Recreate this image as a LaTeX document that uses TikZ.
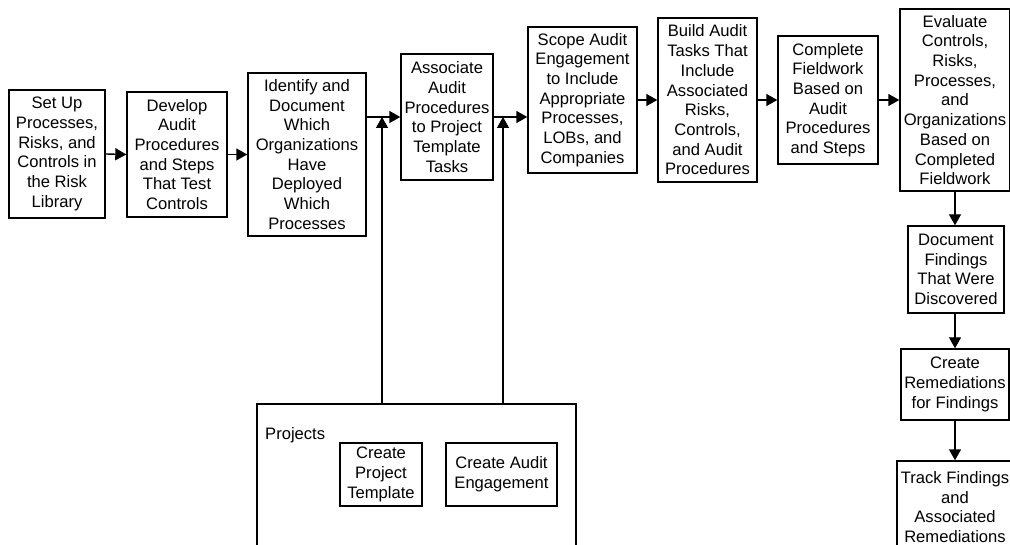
\documentclass[tikz,border=0pt]{standalone}
\usepackage{fontspec}
\setmainfont{Liberation Sans}
\usetikzlibrary{arrows.meta}
\begin{document}
\begin{tikzpicture}[x=1pt,y=-1pt,
  box/.style={draw,line width=1.4pt,inner sep=0pt,align=center,font=\fontsize{16.6}{19.7}\selectfont},
  lbl/.style={inner sep=0pt,font=\fontsize{16.6}{19.7}\selectfont},
  arr/.style={line width=1.4pt,-{Triangle[length=11pt,width=12pt]}},
  ln/.style={line width=1.4pt}]
\useasboundingbox (0,0) rectangle (1010,545);
\clip (0,0) rectangle (1010,545);
% main flow
\node[box,minimum width=96pt,minimum height=128pt] (b1) at (57,154) {Set Up\\Processes,\\Risks, and\\Controls in\\the Risk\\Library};
\node[box,minimum width=100pt,minimum height=125pt] (b2) at (177,154.5) {Develop\\Audit\\Procedures\\and Steps\\That Test\\Controls};
\node[box,minimum width=118pt,minimum height=163pt] (b3) at (307,154.5) {Identify and\\Document\\Which\\Organizations\\Have\\Deployed\\Which\\Processes};
\node[box,minimum width=92pt,minimum height=126pt] (b4) at (447,117) {Associate\\Audit\\Procedures\\to Project\\Template\\Tasks};
\node[box,minimum width=109pt,minimum height=146pt] (b5) at (582.5,100) {Scope Audit\\Engagement\\to Include\\Appropriate\\Processes,\\LOBs, and\\Companies};
\node[box,minimum width=99pt,minimum height=164pt] (b6) at (707.5,100) {Build Audit\\Tasks That\\Include\\Associated\\Risks,\\Controls,\\and Audit\\Procedures};
\node[box,minimum width=100pt,minimum height=128pt] (b7) at (828,100) {Complete\\Fieldwork\\Based on\\Audit\\Procedures\\and Steps};
\node[box,minimum width=110pt,minimum height=182pt] (b8) at (955,100) {Evaluate\\Controls,\\Risks,\\Processes,\\and\\Organizations\\Based on\\Completed\\Fieldwork};
\node[box,minimum width=96pt,minimum height=87pt] (b9) at (956,269.5) {Document\\Findings\\That Were\\Discovered};
\node[box,minimum width=108pt,minimum height=71pt] (b10) at (955,384.5) {Create\\Remediations\\for Findings};
\node[box,minimum width=116pt,minimum height=92pt] (b11) at (955,507) {Track Findings\\and\\Associated\\Remediations};
% projects
\node[draw,ln,inner sep=0pt,minimum width=319pt,minimum height=160pt] (proj) at (416.5,484) {};
\node[lbl,anchor=west] (plabel) at (265,435) {Projects};
\node[box,minimum width=82pt,minimum height=63pt] (p1) at (381,474.5) {Create\\Project\\Template};
\node[box,minimum width=111pt,minimum height=63pt] (p2) at (501.5,474.5) {Create Audit\\Engagement};
% connectors
\draw[arr] (b1.east) -- (b2.west);
\draw[arr] (b2.east) -- (b3.west);
\draw[arr] (b3.east |- b4.west) -- (b4.west);
\draw[arr] (b4.east) -- (b5.west |- b4.east);
\draw[arr] (b5.east) -- (b6.west);
\draw[arr] (b6.east) -- (b7.west);
\draw[arr] (b7.east) -- (b8.west);
\draw[arr] (b8.south) -- (b8.south |- b9.north);
\draw[arr] (b9.south -| b8.south) -- (b10.north -| b8.south);
\draw[arr] (b10.south -| b8.south) -- (b11.north -| b8.south);
\coordinate (m1) at (382,117);
\coordinate (m2) at (503,117);
\draw[arr] (proj.north -| m1) -- (m1);
\draw[arr] (proj.north -| m2) -- (m2);
\end{tikzpicture}
\end{document}
